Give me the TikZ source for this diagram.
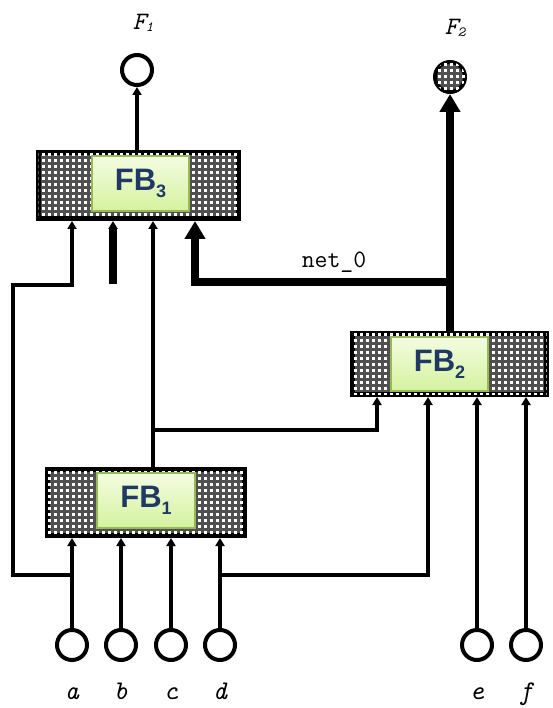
\documentclass[tikz,border=0pt]{standalone}
\usepackage{fontspec}
\setmainfont{Liberation Sans}
\usetikzlibrary{arrows.meta,patterns}
\pgfdeclarepatternformonly{bigdots}{\pgfqpoint{-1pt}{-1pt}}{\pgfqpoint{7pt}{7pt}}{\pgfqpoint{6pt}{6pt}}{%
  \pgfpathrectangle{\pgfqpoint{0pt}{0pt}}{\pgfqpoint{3pt}{3pt}}\pgfusepath{fill}}
\definecolor{navy}{RGB}{31,56,100}
\definecolor{olive}{RGB}{150,185,85}
\definecolor{lgtop}{RGB}{244,252,226}
\definecolor{lgbot}{RGB}{212,242,158}
\definecolor{dgray}{RGB}{80,80,80}
\tikzset{
  fbouter/.style={draw=black, line width=5pt, fill=dgray, inner sep=0pt,
    postaction={pattern=bigdots, pattern color=white}},
  fbinner/.style={draw=olive, line width=1.5pt, top color=lgtop, bottom color=lgbot,
    inner sep=0pt, font=\fontsize{31}{31}\selectfont\bfseries, text=navy},
  pin/.style={circle, draw=black, line width=4pt, fill=white, minimum size=30pt, inner sep=0pt},
  wire/.style={line width=4.5pt},
  thinwire/.style={line width=3.5pt},
  thickwire/.style={line width=7.5pt},
  smalltip/.style={-{Triangle[length=8pt,width=9pt]}},
  bigtip/.style={-{Triangle[length=18pt,width=20pt]}},
  lbl/.style={font=\ttfamily\itshape\fontsize{27}{27}\selectfont, anchor=base, inner sep=0pt},
  flbl/.style={font=\ttfamily\itshape\fontsize{25}{25}\selectfont, anchor=base, inner sep=0pt},
}
\begin{document}
\begin{tikzpicture}[x=1pt,y=-1pt]
\useasboundingbox[fill=white] (0,0) rectangle (552,708);

% function blocks
\node[fbouter, minimum width=200pt, minimum height=66pt] (FB3o) at (138.5,185.5) {};
\node[fbinner, minimum width=97pt, minimum height=55pt] (FB3) at (140.5,183.5) {FB\raisebox{-7pt}{\fontsize{18}{18}\selectfont 3}};
\node[fbouter, minimum width=197pt, minimum height=66pt] (FB1o) at (146,502.5) {};
\node[fbinner, minimum width=98pt, minimum height=55pt] (FB1) at (146,500.5) {FB\raisebox{-7pt}{\fontsize{18}{18}\selectfont 1}};
\node[fbouter, minimum width=194pt, minimum height=61pt] (FB2o) at (449.5,364) {};
\node[fbinner, minimum width=97pt, minimum height=54pt] (FB2) at (439.5,364) {FB\raisebox{-7pt}{\fontsize{18}{18}\selectfont 2}};

% pins
\node[pin] (F1) at (137,70) {};
\node[pin, fill=dgray, postaction={pattern=bigdots, pattern color=white}] (F2) at (450,77) {};
\node[pin] (a) at (72,645) {};
\node[pin] (b) at (121,645) {};
\node[pin] (c) at (171,645) {};
\node[pin] (d) at (220,645) {};
\node[pin] (e) at (477,645) {};
\node[pin] (f) at (526,645) {};

% labels
\node[flbl] (lF1) at (143,30) {F\raisebox{-2pt}{\fontsize{14}{14}\selectfont 1}};
\node[flbl] (lF2) at (455,35) {F\raisebox{-2pt}{\fontsize{14}{14}\selectfont 2}};
\node[lbl] (la) at (72,699) {a};
\node[lbl] (lb) at (121,699) {b};
\node[lbl] (lc) at (171,699) {c};
\node[lbl] (ld) at (220,699) {d};
\node[lbl] (le) at (477,699) {e};
\node[lbl] (lf) at (526,699) {f};
\node[anchor=base, inner sep=0pt, font=\ttfamily\fontsize{25}{25}\selectfont] (lnet) at (334,267) {net\_0};

% junction / bend coordinates
\coordinate (jA) at (72,575);
\coordinate (lbot) at (13,575);
\coordinate (ltop) at (13,285);
\coordinate (i31) at (72,285);
\coordinate (i32) at (113,284);
\coordinate (o1) at (153,430);
\coordinate (i21) at (377,430);
\coordinate (jD) at (220,575);
\coordinate (i22) at (428,575);
\coordinate (o2) at (450,282);
\coordinate (i34) at (195,282);

% FB1 inputs
\draw[thinwire, smalltip] (a) -- (a |- FB1o.south);
\draw[thinwire, smalltip] (b) -- (b |- FB1o.south);
\draw[thinwire, smalltip] (c) -- (c |- FB1o.south);
\draw[thinwire, smalltip] (d) -- (d |- FB1o.south);

% a to FB3 input 1
\draw[wire, smalltip] (jA) -- (lbot) -- (ltop) -- (i31) -- (i31 |- FB3o.south);
% FB3 input 2 stub
\draw[thickwire, smalltip] (i32) -- (i32 |- FB3o.south);
% FB1 output to FB3 input 3 and FB2 input 1
\draw[wire, smalltip] (o1 |- FB1o.north) -- (o1 |- FB3o.south);
\draw[wire, smalltip] (o1) -- (i21) -- (i21 |- FB2o.south);
% d to FB2 input 2
\draw[wire, smalltip] (jD) -- (i22) -- (i22 |- FB2o.south);
% e, f to FB2
\draw[wire, smalltip] (e) -- (e |- FB2o.south);
\draw[wire, smalltip] (f) -- (f |- FB2o.south);
% FB2 output to F2 and net_0
\draw[thickwire, bigtip] (o2 |- FB2o.north) -- (F2);
\draw[thickwire, bigtip] (o2) -- (i34) -- (i34 |- FB3o.south);
% FB3 output to F1
\draw[wire, smalltip] (F1 |- FB3o.north) -- (F1);
\end{tikzpicture}
\end{document}
